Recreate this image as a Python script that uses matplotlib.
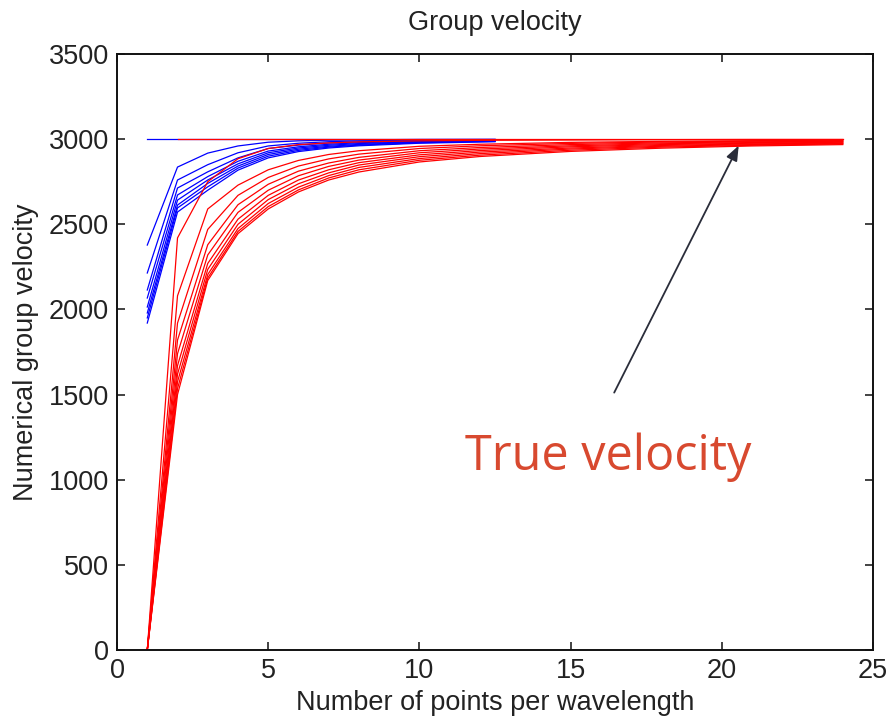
import numpy as np
import matplotlib.pyplot as plt

# red curves (one per row), sampled at xr
xr = [1, 2, 3, 4, 5, 6, 7, 8, 10, 12, 15, 18, 21, 24]
red_curves = [
    [0, 2420, 2750, 2885, 2945, 2968, 2978, 2984, 2990, 2993, 2995, 2997, 2998, 2998],
    [0, 2080, 2590, 2730, 2820, 2875, 2910, 2932, 2958, 2970, 2981, 2987, 2991, 2994],
    [0, 1920, 2470, 2670, 2775, 2842, 2884, 2912, 2945, 2961, 2975, 2983, 2988, 2991],
    [0, 1820, 2380, 2615, 2735, 2812, 2860, 2893, 2932, 2951, 2968, 2978, 2984, 2988],
    [0, 1740, 2320, 2570, 2700, 2785, 2840, 2877, 2920, 2942, 2961, 2973, 2980, 2985],
    [0, 1670, 2270, 2530, 2670, 2760, 2820, 2862, 2908, 2933, 2955, 2968, 2976, 2982],
    [0, 1620, 2235, 2500, 2645, 2738, 2802, 2848, 2897, 2924, 2948, 2963, 2972, 2978],
    [0, 1575, 2205, 2475, 2622, 2718, 2786, 2834, 2886, 2915, 2942, 2958, 2968, 2975],
    [0, 1535, 2185, 2458, 2604, 2702, 2772, 2820, 2876, 2906, 2935, 2953, 2964, 2972],
    [0, 1500, 2170, 2445, 2590, 2690, 2760, 2807, 2866, 2898, 2928, 2947, 2960, 2968],
]

# blue curves, sampled at xb
xb = [1, 2, 3, 4, 5, 6, 7, 8, 10, 12.5]
blue_curves = [
    [2378, 2836, 2918, 2960, 2982, 2990, 2994, 2996, 2998, 2999],
    [2214, 2760, 2850, 2920, 2960, 2976, 2985, 2990, 2995, 2997],
    [2114, 2713, 2808, 2890, 2945, 2965, 2977, 2984, 2991, 2995],
    [2067, 2672, 2780, 2870, 2930, 2955, 2970, 2979, 2988, 2993],
    [2014, 2642, 2760, 2855, 2920, 2948, 2964, 2974, 2985, 2991],
    [1979, 2613, 2740, 2842, 2910, 2941, 2958, 2969, 2982, 2989],
    [1950, 2596, 2720, 2830, 2900, 2934, 2953, 2965, 2979, 2987],
    [1920, 2572, 2700, 2818, 2890, 2927, 2948, 2961, 2976, 2985],
]

c_true = 3000
blue_true_x = [1, 12.5]
red_true_x = [2, 24]

plt.rcParams['font.family'] = ['Liberation Sans', 'DejaVu Sans']

fig = plt.figure(figsize=(8.88, 7.2), dpi=100)
ax = fig.add_axes([0.1318, 0.0972, 0.8513, 0.8278])

ax.plot(blue_true_x, [c_true, c_true], color='blue', lw=0.9)
for yb in blue_curves:
    ax.plot(xb, yb, color='blue', lw=0.9)
ax.plot(red_true_x, [c_true, c_true], color='red', lw=0.9)
for yr in red_curves:
    ax.plot(xr, yr, color='red', lw=0.9)

txt = '#222222'
ax.set_xlim(0, 25)
ax.set_ylim(0, 3500)
ax.set_xticks(np.arange(0, 26, 5))
ax.set_yticks(np.arange(0, 3501, 500))
ax.tick_params(direction='in', length=6, width=1.2, labelsize=19.5,
               top=True, right=True, colors=txt, pad=6)
for s in ax.spines.values():
    s.set_linewidth(1.4)
    s.set_color('#111111')

ax.set_title('Group velocity', fontsize=19.5, pad=17, color=txt)
ax.set_xlabel('Number of points per wavelength', fontsize=19.5, labelpad=4, color=txt)
ax.set_ylabel('Numerical group velocity', fontsize=19.5, labelpad=7, color=txt)

ax.annotate('', xy=(20.6, 2977), xytext=(16.4, 1497),
            arrowprops=dict(arrowstyle='-|>,head_length=0.9,head_width=0.35',
                            color='#2a2d3a', lw=1.3))
ax.text(16.24, 1133, 'True velocity', color='#d8492f', fontsize=35,
        family=['Open Sans', 'DejaVu Sans'], ha='center', va='center')

fig.savefig('out.png', dpi=100)
